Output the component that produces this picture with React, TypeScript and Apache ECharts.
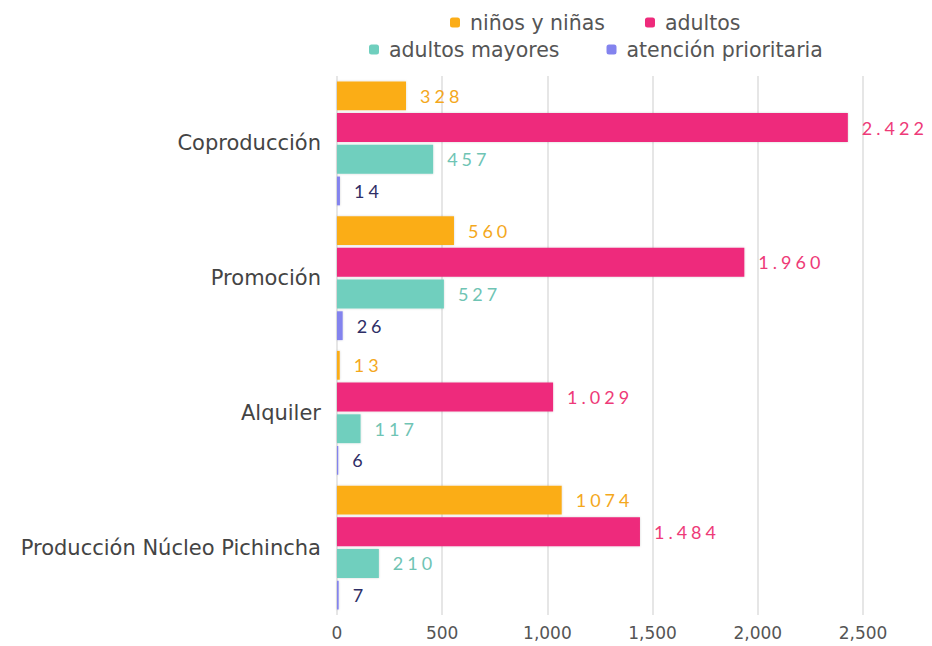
import React, { useEffect, useRef } from "react";
import * as echarts from "echarts";

const categories = ["Coproducción", "Promoción", "Alquiler", "Producción Núcleo Pichincha"];
const seriesNames = ["niños y niñas", "adultos", "adultos mayores", "atención prioritaria"];
const ninos = [328, 556, 13, 1068];
const adultos = [2428, 1936, 1027, 1440];
const mayores = [457, 508, 112, 199];
const atencion = [14, 27, 6, 8];
const ninosLabels = ["328", "560", "13", "1074"];
const adultosLabels = ["2.422", "1.960", "1.029", "1.484"];
const mayoresLabels = ["457", "527", "117", "210"];
const atencionLabels = ["14", "26", "6", "7"];
const axisTicks = [0, 500, 1000, 1500, 2000, 2500];

const barColors = ["#fbad18", "#ee2a7b", "#6fcfbe", "#8383ee"];
const labelColors = ["#f4a81c", "#ee3a78", "#6fc4b4", "#2e2e66"];

const FONT = "'DejaVu Sans', sans-serif";
const LABEL_FONT = "Lato, 'Noto Sans', sans-serif";

export default function App() {
  const ref = useRef<HTMLDivElement>(null);
  useEffect(() => {
    document.body.style.margin = "0";
    if (!ref.current) return;
    const chart = echarts.init(ref.current, null, { renderer: "svg" });
    const values = [ninos, adultos, mayores, atencion];
    const labels = [ninosLabels, adultosLabels, mayoresLabels, atencionLabels];
    const allLabels = new Set<string>();
    labels.forEach((l) => l.forEach((s) => allLabels.add(s)));
    const series = seriesNames.map((name, i) => ({
      name,
      type: "bar",
      data: values[i],
      barCategoryGap: "8%",
      barGap: "10%",
      itemStyle: {
        color: barColors[i],
        shadowColor: "rgba(0,0,0,0.18)",
        shadowBlur: 2,
      },
      label: {
        show: true,
        position: "right",
        distance: 14,
        color: labelColors[i],
        fontSize: 18,
        fontFamily: LABEL_FONT,
        formatter: (p: any) => labels[i][p.dataIndex],
      },
    }));
    const legendText = { fontSize: 20.5, color: "#555", fontFamily: FONT, padding: [0, 0, 0, 5] };
    chart.setOption({
      animation: false,
      color: barColors,
      legend: [
        {
          data: [seriesNames[0], seriesNames[1]],
          top: 12,
          left: 450,
          padding: 0,
          icon: "roundRect",
          itemWidth: 10,
          itemHeight: 10,
          itemGap: 40,
          textStyle: legendText,
        },
        {
          data: [seriesNames[2], seriesNames[3]],
          top: 39,
          left: 369,
          padding: 0,
          icon: "roundRect",
          itemWidth: 10,
          itemHeight: 10,
          itemGap: 47,
          textStyle: legendText,
        },
      ],
      grid: { left: 337, right: 69, top: 76, bottom: 31, containLabel: false },
      xAxis: {
        type: "value",
        min: axisTicks[0],
        max: axisTicks[axisTicks.length - 1],
        interval: axisTicks[1] - axisTicks[0],
        axisLine: { show: false },
        axisTick: { show: false },
        splitLine: { show: true, lineStyle: { color: "#e6e6e6", width: 2 } },
        axisLabel: {
          color: "#555",
          fontSize: 17,
          fontFamily: FONT,
          margin: 9,
          formatter: (v: number) => v.toLocaleString("en-US"),
        },
      },
      yAxis: {
        type: "category",
        data: categories,
        inverse: true,
        axisLine: { show: false },
        axisTick: { show: false },
        axisLabel: { color: "#444", fontSize: 21, fontFamily: FONT, margin: 16 },
      },
      series,
    });
    const svg = ref.current.querySelector("svg");
    if (svg) {
      const cols = labelColors.map((c) => c.toLowerCase());
      svg.querySelectorAll("text").forEach((t) => {
        const txt = (t.textContent || "").trim();
        const fill = (t.getAttribute("fill") || "").toLowerCase();
        if (allLabels.has(txt) && cols.includes(fill)) {
          (t as SVGTextElement).style.letterSpacing = "4px";
        }
      });
    }
    return () => chart.dispose();
  }, []);
  return <div ref={ref} style={{ width: 932, height: 646 }} />;
}
